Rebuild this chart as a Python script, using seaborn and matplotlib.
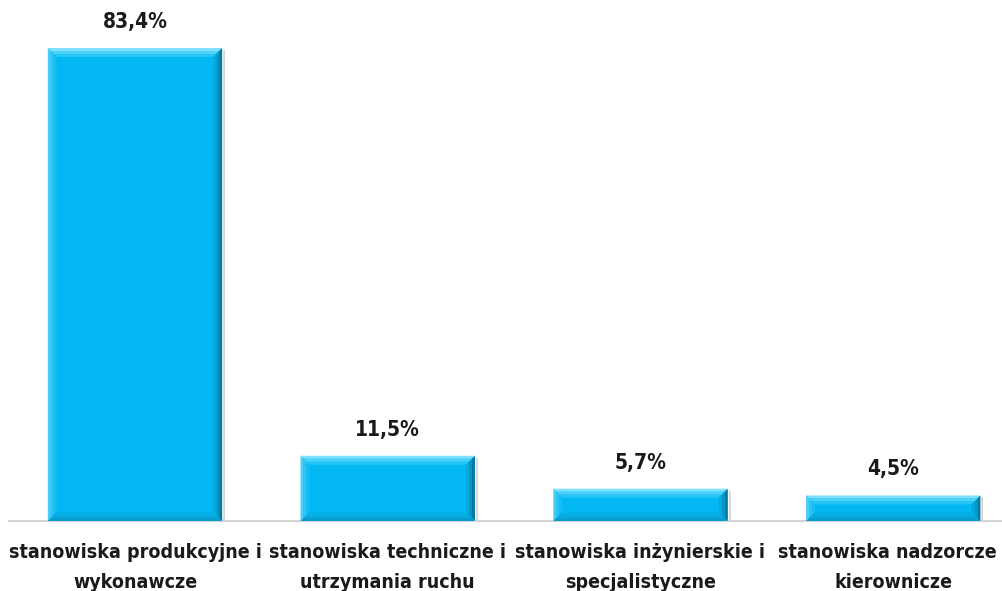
import matplotlib
matplotlib.use("Agg")
import matplotlib.pyplot as plt
from matplotlib.patches import Polygon
import seaborn as sns
import pandas as pd

categories = [
    "stanowiska produkcyjne i\nwykonawcze",
    "stanowiska techniczne i\nutrzymania ruchu",
    "stanowiska inżynierskie i\nspecjalistyczne",
    "stanowiska nadzorcze i\nkierownicze",
]
values = [83.4, 11.5, 5.7, 4.5]
value_labels = ["83,4%", "11,5%", "5,7%", "4,5%"]

sns.set_theme(style="white")
plt.rcParams["font.family"] = ["DejaVu Sans"]
plt.rcParams["font.stretch"] = "condensed"

df = pd.DataFrame({"kategoria": categories, "udzial": values})

fig = plt.figure(figsize=(10.03, 5.91), dpi=100)
ax = fig.add_axes([8.6 / 1003, 70 / 591, 1011 / 1003, 473 / 591])

base = "#03B8F2"
sns.barplot(data=df, x="kategoria", y="udzial", color=base, saturation=1,
            width=0.69, ax=ax, zorder=2)

ax.set_ylim(0, 83.4)
ax.set_xlim(-0.5, 3.5)
ax.set_xlabel("")
ax.set_ylabel("")
ax.set_yticks([])
for s in ["top", "right", "left"]:
    ax.spines[s].set_visible(False)
ax.spines["bottom"].set_color("#d4d4d4")
ax.spines["bottom"].set_linewidth(1.5)
ax.tick_params(axis="x", length=0, pad=16)
for t in ax.get_xticklabels():
    t.set_fontsize(14)
    t.set_fontweight("bold")
    t.set_color("#1a1a1a")
    t.set_linespacing(1.7)

fig.canvas.draw()
inv = ax.transData.inverted()


def band(pts, color, alpha=1.0, z=3):
    ax.add_patch(Polygon([inv.transform(p) for p in pts], closed=True, color=color,
                         alpha=alpha, lw=0, zorder=z))


for patch, lab in zip(ax.patches, value_labels):
    x0, y0 = patch.get_x(), patch.get_y()
    w, h = patch.get_width(), patch.get_height()
    px0, py0 = ax.transData.transform((x0, y0))
    px1, py1 = ax.transData.transform((x0 + w, y0 + h))

    # soft drop shadow
    band([(px0 + 1, py0 - 3), (px1 + 3, py0 - 3), (px1 + 3, py1 - 2), (px1, py1 - 2)],
         "#c4c4c4", 0.7, 1)
    # bevel: lighter top and left, darker right and bottom, in graded steps
    for i, (a, b) in enumerate([(0, 3), (3, 6), (6, 9)]):
        top_c = ["#7fe1ff", "#4dd2fb", "#26c5f6"][i]
        band([(px0 + a, py1 - a), (px1 - a, py1 - a), (px1 - b, py1 - b), (px0 + b, py1 - b)], top_c)
        left_c = ["#4ccdf7", "#2fc4f4", "#16bdf3"][i]
        band([(px0 + a, py0 + a), (px0 + a, py1 - a), (px0 + b, py1 - b), (px0 + b, py0 + b)], left_c)
        right_c = ["#05799f", "#0795c4", "#05a9de"][i]
        band([(px1 - a, py0 + a), (px1 - a, py1 - a), (px1 - b, py1 - b), (px1 - b, py0 + b)], right_c)
        bot_c = ["#0a9ccc", "#06aadf", "#04b2ea"][i]
        band([(px0 + a, py0 + a), (px1 - a, py0 + a), (px1 - b, py0 + b), (px0 + b, py0 + b)], bot_c)

    ax.annotate(lab, (x0 + w / 2, y0 + h), xytext=(0, 26), textcoords="offset pixels",
                ha="center", va="center", fontsize=15, fontweight="bold",
                color="#1a1a1a", annotation_clip=False)

fig.savefig("out.png", dpi=100)
